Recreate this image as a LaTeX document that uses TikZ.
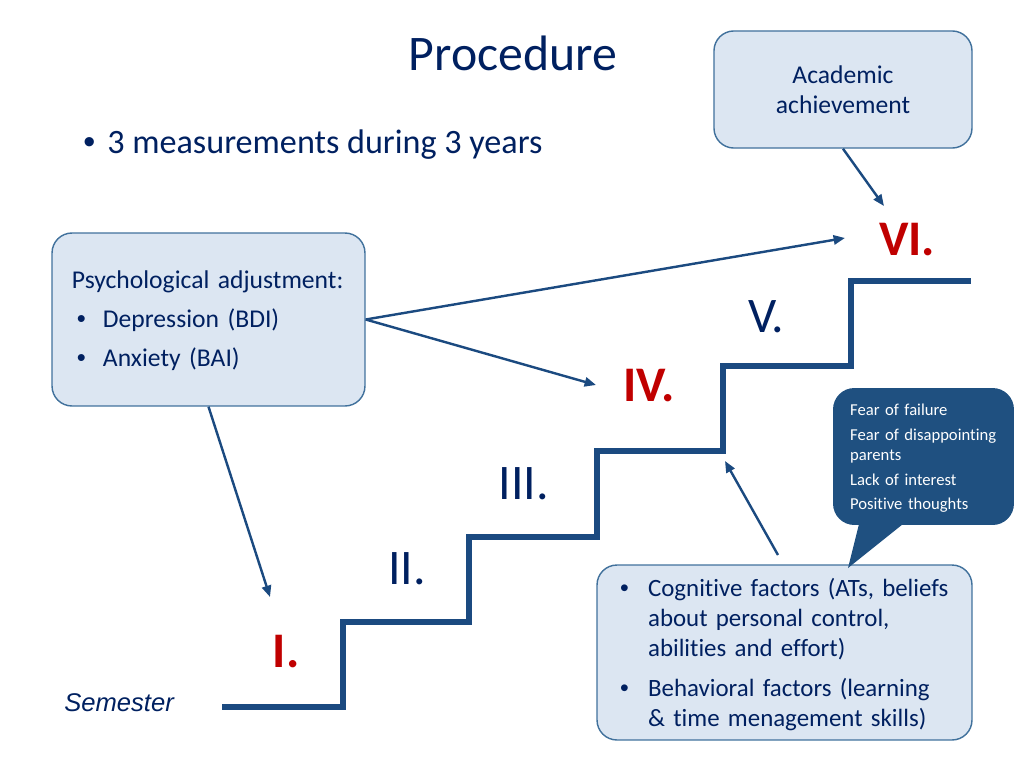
\documentclass[tikz,border=0pt]{standalone}
\usepackage{fontspec}
\setmainfont[Ligatures=NoCommon]{Carlito}
\newfontfamily\semfont{Liberation Sans}
\usetikzlibrary{arrows.meta}

\definecolor{navy}{HTML}{002060}
\definecolor{stairblue}{HTML}{1B4A80}
\definecolor{boxfill}{HTML}{DCE6F2}
\definecolor{boxline}{HTML}{41719C}
\definecolor{bubblefill}{HTML}{1F5080}
\definecolor{hired}{HTML}{C00000}

\newcommand{\bul}{{\semfont\textbullet}}

\tikzset{
  box/.style={draw=boxline, fill=boxfill, line width=1pt, rounded corners=14pt,
    text=navy, inner ysep=0pt},
  bubble/.style={fill=bubblefill, rounded corners=15pt, text=white, inner ysep=0pt},
  numeral/.style={text=navy, inner sep=0pt, font=\fontsize{35}{40}\selectfont},
  numhi/.style={text=hired, inner sep=0pt, font=\fontsize{35}{40}\selectfont\bfseries},
  link/.style={draw=stairblue, line width=1.7pt, -{Triangle[length=8pt,width=6.5pt]}},
  stair/.style={draw=stairblue, line width=3.8pt, line join=miter},
}

\begin{document}
\begin{tikzpicture}[x=0.703pt, y=-0.703pt]

  \useasboundingbox (0,0) rectangle (1024,768);

  % Title and intro
  \node[anchor=base, inner sep=0pt, text=navy, font=\fontsize{35}{42}\selectfont]
    (title) at (513,70) {Procedure}; %
  \node[anchor=base west, inner sep=0pt, text=navy, font=\fontsize{24}{28}\selectfont]
    (intro) at (83,153) {\makebox[16.9pt][l]{\bul}3 measurements during 3 years}; %
  \node[anchor=base west, inner sep=0pt, text=navy, font=\fontsize{18}{21}\semfont\itshape]
    (sem) at (64,711) {Semester}; %

  % Staircase
  \draw[stair] (222,707) -- (343,707) -- (343,622) -- (469,622) -- (469,537)
    -- (597,537) -- (597,451) -- (723,451) -- (723,366) -- (851,366)
    -- (851,281) -- (971,281);

  % Step labels
  \node[numhi]   (s1) at (286,652) {I.}; %
  \node[numeral] (s2) at (407,569) {II.}; %
  \node[numeral] (s3) at (524,484) {III.}; %
  \node[numhi]   (s4) at (649,386) {IV.}; %
  \node[numeral] (s5) at (766,317) {V.}; %
  \node[numhi]   (s6) at (907,240) {VI.}; %

  % Boxes
  \node[box, minimum width=181.4pt, minimum height=82.3pt, align=center,
    font=\fontsize{18}{21.1}\selectfont] (acad) at (843,89.5)
    {Academic\\achievement}; %
  \node[box, minimum width=220pt, minimum height=121.6pt, text width=192pt,
    inner xsep=14pt, align=left, font=\fontsize{18}{27.4}\selectfont]
    (psych) at (208.5,319.5) {%
    \begin{tabular}{@{}l@{}}
      Psychological adjustment:\\
      \makebox[21.8pt][l]{\hspace{3.5pt}\bul}Depression (BDI)\\
      \makebox[21.8pt][l]{\hspace{3.5pt}\bul}Anxiety (BAI)
    \end{tabular}}; %
  \node[box, minimum width=263.6pt, minimum height=123pt, text width=231.2pt,
    inner xsep=16.2pt, align=left, font=\fontsize{17.5}{21.1}\selectfont]
    (factors) at (784.5,652.5) {%
    \raisebox{-2.2pt}[\height][\depth]{%
    \begin{tabular}{@{}l@{}l@{}}
      \makebox[19.7pt][l]{\bul} & Cognitive factors (ATs, beliefs\\
        & about personal control,\\
        & abilities and effort)\\[7pt]
      \makebox[19.7pt][l]{\bul} & Behavioral factors (learning\\
        & \& time menagement skills)
    \end{tabular}}}; %

  % Callout
  \coordinate (tip) at (848,568); %
  \node[bubble, minimum width=127.2pt, minimum height=96.3pt, text width=103.2pt,
    inner xsep=12pt, align=left, font=\fontsize{11.7}{14.1}\selectfont]
    (worry) at (923.5,456.5) {%
    \raisebox{-1.6pt}[\height][\depth]{%
    \begin{tabular}{@{}l@{}}
      Fear of failure\\[3.3pt]
      Fear of disappointing\\
      parents\\[3.3pt]
      Lack of interest\\[3.3pt]
      Positive thoughts
    \end{tabular}}}; %
  \fill[bubblefill] (860,520) -- (908,520) -- (tip) -- cycle;

  % Arrows
  \coordinate (acad-in) at (884,206); %
  \coordinate (vi-in) at (845,238); %
  \coordinate (iv-in) at (596,385); %
  \coordinate (i-in) at (270,597); %
  \coordinate (fac-out) at (778,555); %
  \coordinate (fac-in) at (725,461); %

  \draw[link] (acad.south) -- (acad-in);
  \draw[link] (psych.east) -- (vi-in);
  \draw[link] (psych.east) -- (iv-in);
  \draw[link] (psych.south) -- (i-in);
  \draw[link] (fac-out) -- (fac-in);

\end{tikzpicture}
\end{document}
